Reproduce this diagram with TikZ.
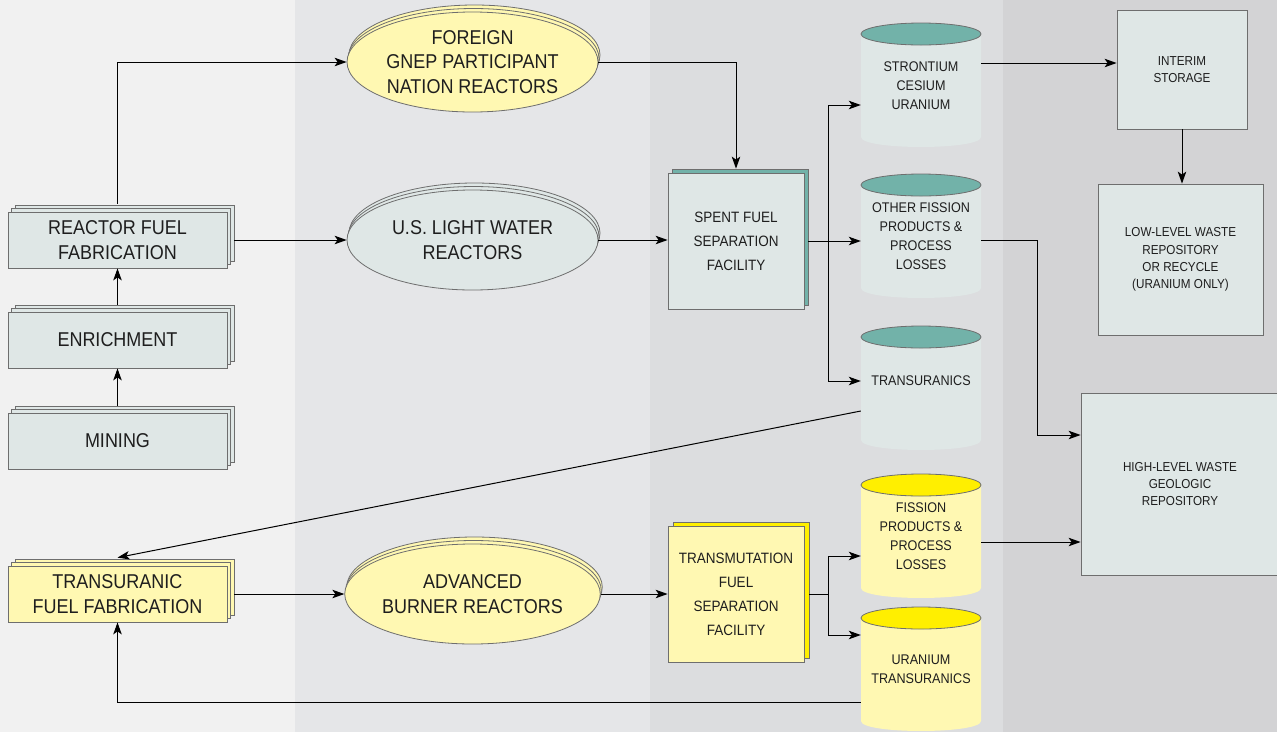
\documentclass[tikz,border=0pt]{standalone}
\usepackage{fontspec}
\setmainfont[FakeStretch=0.9]{Liberation Sans}
\usetikzlibrary{arrows.meta,shapes.geometric,shadows}

\definecolor{bandA}{HTML}{F1F1F1}
\definecolor{bandB}{HTML}{E5E6E8}
\definecolor{bandC}{HTML}{DCDDDF}
\definecolor{bandD}{HTML}{D3D3D5}
\definecolor{boxfill}{HTML}{DFE7E6}
\definecolor{paleyellow}{HTML}{FFF8B2}
\definecolor{capteal}{HTML}{72B2A9}
\definecolor{capyellow}{HTML}{FFEF00}
\definecolor{rim}{HTML}{6E6E6E}
\definecolor{ink}{HTML}{1E1E1E}

\tikzset{
  pile/.style={rectangle, draw=rim, fill=boxfill, line width=0.8pt,
    minimum width=219pt, minimum height=56pt, inner sep=0pt, align=center,
    text=ink, font=\fontsize{20}{25.5}\selectfont,
    copy shadow={shadow xshift=7pt, shadow yshift=7pt},
    copy shadow={shadow xshift=3.5pt, shadow yshift=3.5pt}},
  reactor/.style={ellipse, draw=rim, fill=paleyellow, line width=0.8pt,
    minimum width=251pt, minimum height=100pt, inner sep=0pt, align=center,
    text=ink, font=\fontsize{20}{24.5}\selectfont,
    copy shadow={shadow xshift=2pt, shadow yshift=7pt},
    copy shadow={shadow xshift=1pt, shadow yshift=3.5pt}},
  plant/.style={rectangle, draw=rim, fill=boxfill, line width=0.8pt,
    minimum width=136pt, minimum height=136pt, inner sep=0pt, align=center,
    text=ink, font=\fontsize{15}{24}\selectfont},
  tanklabel/.style={rectangle, minimum width=120pt, minimum height=103pt,
    inner sep=0pt, align=center, text=ink, font=\fontsize{14}{19}\selectfont},
  store/.style={rectangle, draw=rim, fill=boxfill, line width=0.8pt,
    inner sep=0pt, align=center, text=ink, font=\fontsize{13}{17.3}\selectfont},
  flow/.style={line width=1pt, -{Stealth[length=12pt,width=8.5pt,inset=3pt]}},
  line/.style={line width=1pt}
}

% storage tank: name, top y, cap colour, body colour, text
\newcommand{\tank}[5]{%
  \fill[#4] (861,#2) -- (861,#2+103)
    .. controls (861,#2+116.3) and (981,#2+116.3) .. (981,#2+103)
    -- (981,#2) -- cycle;
  \draw[rim,line width=0.8pt,fill=#3] (921,#2) ellipse[x radius=60,y radius=11];
  \node[tanklabel] (#1) at (921,#2+51.5) {#5};
}

\begin{document}
\begin{tikzpicture}[x=1pt,y=-1pt]
  % Background bands
  \useasboundingbox (0,0) rectangle (1277,732);
  \fill[bandA] (0,0) rectangle (295,732);
  \fill[bandB] (295,0) rectangle (650,732);
  \fill[bandC] (650,0) rectangle (1003,732);
  \fill[bandD] (1003,0) rectangle (1277,732);

  % Front end
  \node[pile] (rff) at (117.5,240) {REACTOR FUEL\\FABRICATION};
  \node[pile] (enr) at (117.5,340) {ENRICHMENT};
  \node[pile] (min) at (117.5,441) {MINING};
  \node[pile,fill=paleyellow] (tff) at (117.5,594) {TRANSURANIC\\FUEL FABRICATION};

  % Reactors
  \node[reactor] (fgn) at (472.5,62) {FOREIGN\\GNEP PARTICIPANT\\NATION REACTORS};
  \node[reactor,fill=boxfill] (lwr) at (472.5,240) {U.S. LIGHT WATER\\REACTORS};
  \node[reactor] (abr) at (472.5,594) {ADVANCED\\BURNER REACTORS};

  % Separation plants
  \node[plant,copy shadow={shadow xshift=4pt,shadow yshift=4pt,fill=capteal}]
    (sfs) at (736,241) {SPENT FUEL\\SEPARATION\\FACILITY};
  \node[plant,fill=paleyellow,copy shadow={shadow xshift=5pt,shadow yshift=4pt,fill=capyellow}]
    (tfs) at (736,594) {TRANSMUTATION\\FUEL\\SEPARATION\\FACILITY};

  % Tanks
  \tank{sr}{34}{capteal}{boxfill}{STRONTIUM\\CESIUM\\URANIUM}
  \tank{ofp}{185}{capteal}{boxfill}{OTHER FISSION\\PRODUCTS \&\\PROCESS\\LOSSES}
  \tank{trn}{337}{capteal}{boxfill}{TRANSURANICS\\[-4pt]}
  \tank{fpl}{485}{capyellow}{paleyellow}{FISSION\\PRODUCTS \&\\PROCESS\\LOSSES}
  \tank{utr}{618}{capyellow}{paleyellow}{URANIUM\\TRANSURANICS}

  % Storage and repositories
  \node[store,minimum width=130pt,minimum height=119pt] (ist) at (1182,69.5) {INTERIM\\STORAGE};
  \node[store,minimum width=165pt,minimum height=151pt] (llw) at (1180.5,259.5)
    {LOW-LEVEL WASTE\\REPOSITORY\\OR RECYCLE\\(URANIUM ONLY)};
  \node[store,minimum width=198pt,minimum height=182pt] (hlw) at (1180,484)
    {HIGH-LEVEL WASTE\\GEOLOGIC\\REPOSITORY};

  % Flows of the front end
  \draw[flow] ([yshift=7pt]min.north) -- (enr.south);
  \draw[flow] ([yshift=7pt]enr.north) -- (rff.south);
  \draw[flow] ([yshift=8pt]rff.north) |- (fgn.west);
  \draw[flow] ([xshift=7pt]rff.east) -- (lwr.west);
  \draw[flow] (fgn.east) -| ([yshift=4pt]sfs.north);
  \draw[flow] (lwr.east) -- (lwr.east -| sfs.west);

  % Spent fuel split
  \coordinate (fork1) at ([xshift=24pt]sfs.east);
  \draw[line] ([xshift=4pt]sfs.east) -- (fork1);
  \draw[flow] (fork1) |- ([yshift=-19.5pt]sr.west);
  \draw[flow] (fork1) -- (fork1 -| ofp.west);
  \draw[flow] (fork1) |- ([yshift=7.5pt]trn.west);

  % Waste streams
  \coordinate (srout) at ([yshift=22.5pt]sr.east);
  \draw[flow] (srout) -- (srout -| ist.west);
  \draw[flow] (ist.south) -- (ist.south |- llw.north);
  \coordinate (ofpout) at ([yshift=-3.5pt]ofp.east);
  \draw[flow] (ofpout) -- ++(56,0) |- ([yshift=49pt]hlw.west);
  \coordinate (fplout) at ([yshift=-5.5pt]fpl.east);
  \draw[flow] (fplout) -- (fplout -| hlw.west);

  % Transuranic loop
  \draw[flow] ([yshift=-22.5pt]trn.west) -- ([yshift=8pt]tff.north);
  \draw[flow] ([xshift=7pt]tff.east) -- (abr.west);
  \draw[flow] (abr.east) -- (tfs.west);
  \coordinate (fork2) at ([xshift=24pt]tfs.east);
  \draw[line] ([xshift=5pt]tfs.east) -- (fork2);
  \draw[flow] (fork2) |- ([yshift=-19.5pt]fpl.west);
  \draw[flow] (fork2) |- ([yshift=34.5pt]utr.west);
  \draw[flow] ([yshift=-32.5pt]utr.west) -| (tff.south);
\end{tikzpicture}
\end{document}
